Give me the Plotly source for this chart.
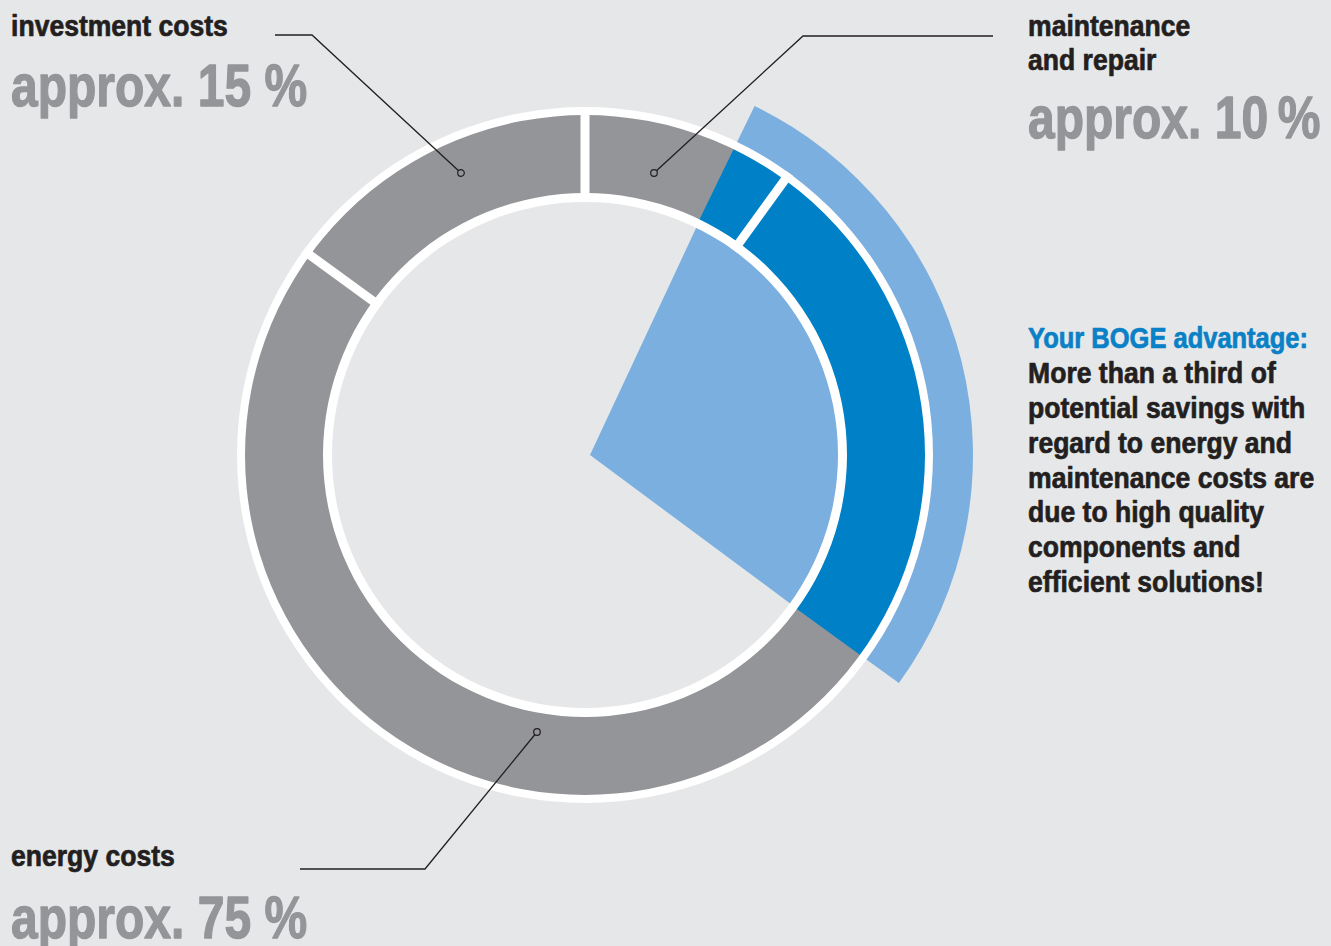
import math
import plotly.graph_objects as go

# ---------------- data ----------------
categories = ["maintenance and repair", "energy costs", "investment costs"]
shares_pct = [10, 75, 15]                 # clockwise from 12 o'clock
share_labels = ["approx. 10\u2009%", "approx. 75 %", "approx. 15 %"]
savings_pct = [7.2, 35.0]                 # start / end of BOGE savings sector (% of cycle)

# ---------------- style / geometry ----------------
W, H = 1331, 946
CX, CY = 585, 455          # ring centre (px)
APEX_DX = 5                # inner wedge apex offset (px)
R_WHITE_IN, R_RING_IN, R_RING_OUT, R_WHITE_OUT, R_ARC = 253, 262, 340, 348, 388
BG = "#e6e7e8"
GRAY = "#939598"
DARK_BLUE = "#0080c6"
LIGHT_BLUE = "#7aafdf"
TXT = "#231f20"
BLUE_TXT = "#0a80c6"
FONT = "Liberation Sans, Arial, Helvetica, sans-serif"
RMAX = 400

def pct2deg(p):
    return p * 3.6

# segment geometry
starts, acc = [], 0.0
for p in shares_pct:
    starts.append(acc)
    acc += p
seg_theta = [pct2deg(s + p / 2) for s, p in zip(starts, shares_pct)]
seg_width = [pct2deg(p) for p in shares_pct]
bounds = [pct2deg(s) for s in starts]

s0, s1 = pct2deg(savings_pct[0]), pct2deg(savings_pct[1])

fig = go.Figure()

# inner light blue wedge, apex slightly right of ring centre (polar subplot 1)
def apex_angle(theta_deg, r=300):
    x = r * math.sin(math.radians(theta_deg)) - APEX_DX
    y = r * math.cos(math.radians(theta_deg))
    return math.degrees(math.atan2(x, y)) % 360

a0, a1 = apex_angle(s0), apex_angle(s1)
fig.add_trace(go.Barpolar(
    r=[R_RING_IN - 4], base=[0], theta=[(a0 + a1) / 2], width=[a1 - a0],
    marker=dict(color=LIGHT_BLUE, line=dict(width=0)), subplot="polar",
    hoverinfo="skip", showlegend=False))

# gray ring segments
fig.add_trace(go.Barpolar(
    r=[R_RING_OUT - R_RING_IN + 8] * 3, base=[R_RING_IN - 4] * 3,
    theta=seg_theta, width=seg_width,
    marker=dict(color=GRAY, line=dict(width=0)), subplot="polar2",
    name="costs", text=categories, hoverinfo="text", showlegend=False))

# dark blue savings part in the ring
fig.add_trace(go.Barpolar(
    r=[R_RING_OUT - R_RING_IN + 8], base=[R_RING_IN - 4],
    theta=[(s0 + s1) / 2], width=[s1 - s0],
    marker=dict(color=DARK_BLUE, line=dict(width=0)), subplot="polar2",
    hoverinfo="skip", showlegend=False))

# outer light blue arc
fig.add_trace(go.Barpolar(
    r=[R_ARC - R_WHITE_OUT + 4], base=[R_WHITE_OUT - 4],
    theta=[(s0 + s1) / 2], width=[s1 - s0],
    marker=dict(color=LIGHT_BLUE, line=dict(width=0)), subplot="polar2",
    hoverinfo="skip", showlegend=False))

# white inner and outer borders of the ring
for base, thick in [(R_WHITE_IN, R_RING_IN - R_WHITE_IN), (R_RING_OUT, R_WHITE_OUT - R_RING_OUT)]:
    fig.add_trace(go.Barpolar(
        r=[thick, thick], base=[base, base], theta=[90, 270], width=[181, 181],
        marker=dict(color="white", line=dict(width=0)), subplot="polar2",
        hoverinfo="skip", showlegend=False))

# white separators between segments
sep_r, sep_t = [], []
for b in bounds:
    sep_r += [R_WHITE_IN, R_WHITE_OUT, None]
    sep_t += [b, b, None]
fig.add_trace(go.Scatterpolar(
    r=sep_r, theta=sep_t, mode="lines", line=dict(color="white", width=9),
    subplot="polar2", hoverinfo="skip", showlegend=False, connectgaps=False))

# ---------------- layout ----------------
def px_x(x):
    return x / W

def px_y(y):
    return 1 - y / H

def polar_dom(cx):
    return dict(x=[px_x(cx - RMAX), px_x(cx + RMAX)],
                y=[px_y(CY + RMAX), px_y(CY - RMAX)])

polar_common = dict(
    bgcolor="rgba(0,0,0,0)",
    angularaxis=dict(visible=False, rotation=90, direction="clockwise"),
    radialaxis=dict(visible=False, range=[0, RMAX]),
    hole=0,
)

fig.update_layout(
    width=W, height=H,
    margin=dict(l=0, r=0, t=0, b=0),
    paper_bgcolor=BG, plot_bgcolor=BG,
    showlegend=False,
    polar=dict(domain=polar_dom(CX + APEX_DX), **polar_common),
    polar2=dict(domain=polar_dom(CX), **polar_common),
)

# leader lines (px): horizontal start, elbow, dot
leaders = [
    [(275, 35), (312, 35), (461, 173)],   # investment
    [(993, 36), (803, 36), (654, 173)],   # maintenance
    [(300, 869), (425, 869), (537, 732)], # energy
]
shapes = []
for pts in leaders:
    path = "M " + " L ".join(f"{px_x(x):.5f},{px_y(y):.5f}" for x, y in pts)
    shapes.append(dict(type="path", xref="paper", yref="paper", path=path,
                       line=dict(color=TXT, width=1.3)))
    dx, dy = pts[-1]
    rr = 3.3
    shapes.append(dict(type="circle", xref="paper", yref="paper",
                       x0=px_x(dx - rr), x1=px_x(dx + rr), y0=px_y(dy + rr), y1=px_y(dy - rr),
                       line=dict(color=TXT, width=1.2), fillcolor=GRAY))
fig.update_layout(shapes=shapes)

# text (baseline px)
def add_text(txt, x, baseline, size, color):
    mid = baseline - 0.3465 * size
    fig.add_annotation(text=txt, x=px_x(x), y=px_y(mid), xref="paper", yref="paper",
                       xanchor="left", yanchor="middle", showarrow=False,
                       font=dict(family=FONT, size=size, color=color, weight="bold"))

LBL, BIG = 30, 60
add_text("investment costs", 9, 36, LBL, TXT)
add_text(share_labels[2], 9, 106.5, BIG, GRAY)
add_text("maintenance", 1026, 36, LBL, TXT)
add_text("and repair", 1026, 70, LBL, TXT)
add_text(share_labels[0], 1026, 138.5, BIG, GRAY)
add_text("energy costs", 9, 866, LBL, TXT)
add_text(share_labels[1], 9, 938.5, BIG, GRAY)

right_lines = ["Your BOGE advantage:", "More than a third of", "potential savings with",
               "regard to energy and", "maintenance costs are", "due to high quality",
               "components and", "efficient solutions!"]
for i, line in enumerate(right_lines):
    add_text(line, 1026, 348.3 + 34.8 * i, LBL, BLUE_TXT if i == 0 else TXT)

# page: no body margin; condensed, heavy lettering (horizontal squeeze + thin outline)
POST = """
document.body.style.margin = '0';
document.querySelectorAll('text.annotation-text').forEach(function (t) {
  var fs = parseFloat(t.style.fontSize);
  var big = fs > 40;
  var sx = big ? 0.80 : 0.885;
  if (t.textContent.indexOf('Your BOGE') === 0) { sx = 0.85; }
  t.style.transformBox = 'fill-box';
  t.style.transformOrigin = '0% 50%';
  t.style.transform = 'scaleX(' + sx + ')';
  t.style.stroke = t.style.fill;
  t.style.strokeWidth = big ? '1.3px' : '0.7px';
  t.style.strokeLinejoin = 'round';
});
"""
fig.write_html("out.html", post_script=POST, config={"displayModeBar": False})
